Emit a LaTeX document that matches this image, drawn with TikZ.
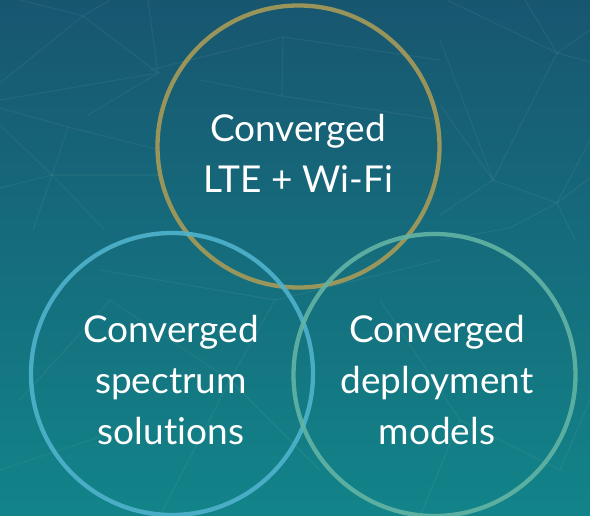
\documentclass[tikz,border=0pt]{standalone}
\usepackage{fontspec}
\setmainfont{Lato}[Ligatures={NoCommon,NoDiscretionary,NoRare,NoContextual}]
\definecolor{bgtop}{HTML}{185670}
\definecolor{bgbot}{HTML}{128489}
\definecolor{ringgold}{HTML}{A89B58}
\definecolor{ringblue}{HTML}{4FB3CC}
\definecolor{ringgreen}{HTML}{62B4A4}
\tikzset{
  ring/.style={circle, draw, line width=4.3pt, minimum size=282pt, inner sep=0pt, draw opacity=0.9},
  ringtext/.style={text=white, align=center, font=\fontsize{37}{51}\selectfont},
  mesh/.style={white, opacity=0.055, line width=1.1pt}
}
\begin{document}
\begin{tikzpicture}[x=1pt,y=-1pt]
\useasboundingbox (0,0) rectangle (590,516);
\shade[top color=bgtop, bottom color=bgbot] (0,0) rectangle (590,516);
% faint background mesh
\draw[mesh] (20,0) -- (83,16) -- (110,0);
\draw[mesh] (0,83) -- (83,16) -- (158,73) -- (148,0);
\draw[mesh] (0,100) -- (158,73) -- (88,115);
\draw[mesh] (0,108) -- (68,127) -- (160,150);
\draw[mesh] (68,127) -- (52,175) -- (0,125);
\draw[mesh] (0,188) -- (52,175) -- (160,175);
\draw[mesh] (33,230) -- (52,175) -- (105,230);
\draw[mesh] (447,0) -- (557,53) -- (525,0);
\draw[mesh] (590,30) -- (557,53) -- (590,62);
\draw[mesh] (557,53) -- (493,180) -- (440,40);
\draw[mesh] (440,105) -- (493,180) -- (557,203) -- (590,178);
\draw[mesh] (590,140) -- (557,203) -- (575,240);
\draw[mesh] (493,180) -- (440,215);
\draw[mesh] (557,203) -- (510,228) -- (440,240);
\draw[mesh] (283,37) -- (150,70);
\draw[mesh] (283,37) -- (440,60);
\draw[mesh] (283,37) -- (282,96) -- (200,80);
\draw[mesh] (282,96) -- (440,120);
\draw[mesh] (100,270) -- (275,300) -- (440,260);
\draw[mesh] (275,300) -- (230,380) -- (320,470);
\draw[mesh] (20,400) -- (110,300) -- (230,380);
\draw[mesh] (230,380) -- (160,516);
\draw[mesh] (460,420) -- (560,470) -- (590,400);
\draw[mesh] (380,300) -- (460,420) -- (420,516);
\draw[mesh] (0,470) -- (120,430);
% circles
\node[ring, draw=ringgold] (top) at (298.5,146.5) {};
\node[ring, draw=ringblue] (left) at (172,374) {};
\node[ring, draw=ringgreen] (right) at (434.5,375) {};
% texts
\node[ringtext] (toptext) at (298,153) {Converged\\LTE + Wi-Fi};
\node[ringtext] (lefttext) at (171,380) {Converged\\spectrum\\solutions};
\node[ringtext] (righttext) at (437,380) {Converged\\deployment\\models};
\end{tikzpicture}
\end{document}
